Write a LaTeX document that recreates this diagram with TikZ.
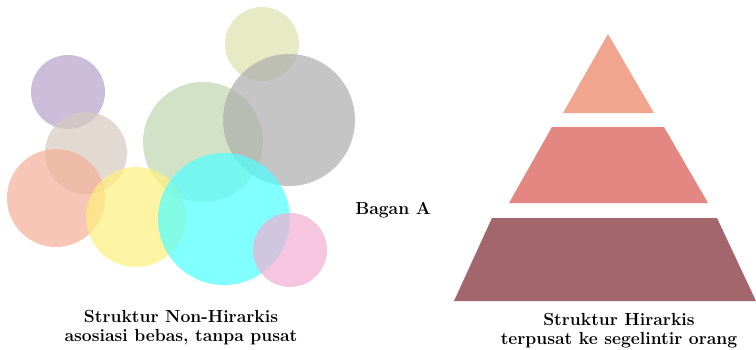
\documentclass[tikz,border=0pt]{standalone}
\usepackage{fontspec}
\usepackage{xcolor}
\usepackage{tikz}
\definecolor{bubPurple}{HTML}{B6A2CC}
\definecolor{bubBeige}{HTML}{D6CBBF}
\definecolor{bubSalmon}{HTML}{F4AE97}
\definecolor{bubYellow}{HTML}{FFEF7C}
\definecolor{bubGreen}{HTML}{BFD6AF}
\definecolor{bubLime}{HTML}{DBE2AE}
\definecolor{bubGray}{HTML}{ADADAD}
\definecolor{bubCyan}{HTML}{4DFFFF}
\definecolor{bubPink}{HTML}{F2AED3}
\definecolor{pyrTop}{HTML}{F2A58E}
\definecolor{pyrMid}{HTML}{E48783}
\definecolor{pyrLow}{HTML}{A3666C}
\tikzset{
    bubble/.style = {circle, inner sep=0pt, draw=none, fill opacity=0.7},
    caption/.style = {align=center, inner sep=0pt, font=\bfseries\fontsize{17.5}{19}\selectfont}
}

\begin{document}
\begin{tikzpicture}[x=1pt, y=-1pt]
    \useasboundingbox (0,0) rectangle (756,349);

    % non-hierarchy bubbles
    \node [bubble, fill=bubPurple, minimum size=74pt] (purple) at (68,92) {};
    \node [bubble, fill=bubLime, minimum size=74pt] (lime) at (262,44) {};
    \node [bubble, fill=bubGreen, minimum size=120pt] (green) at (203,142) {};
    \node [bubble, fill=bubGray, minimum size=132pt] (gray) at (289,120) {};
    \node [bubble, fill=bubBeige, minimum size=82pt] (beige) at (86,153) {};
    \node [bubble, fill=bubSalmon, minimum size=98pt] (salmon) at (56,198) {};
    \node [bubble, fill=bubYellow, minimum size=100pt] (yellow) at (136,217) {};
    \node [bubble, fill=bubCyan, minimum size=132pt] (cyan) at (224,219) {};
    \node [bubble, fill=bubPink, minimum size=74pt] (pink) at (290,250) {};

    % hierarchy pyramid
    \fill [pyrTop] (608,34) -- (654,113) -- (563,113) -- cycle;
    \fill [pyrMid] (552,127) -- (664,127) -- (708,203) -- (509,203) -- cycle;
    \fill [pyrLow] (492,218) -- (717,218) -- (756,301) -- (454,301) -- cycle;

    % labels
    \node [caption] (bagan) at (393,210) {Bagan A};
    \node [caption, anchor=north] (nonhir) at (181,310) {Struktur Non-Hirarkis\\asosiasi bebas, tanpa pusat};
    \node [caption, anchor=north] (hir) at (619,313) {Struktur Hirarkis\\terpusat ke segelintir orang};
\end{tikzpicture}
\end{document}
